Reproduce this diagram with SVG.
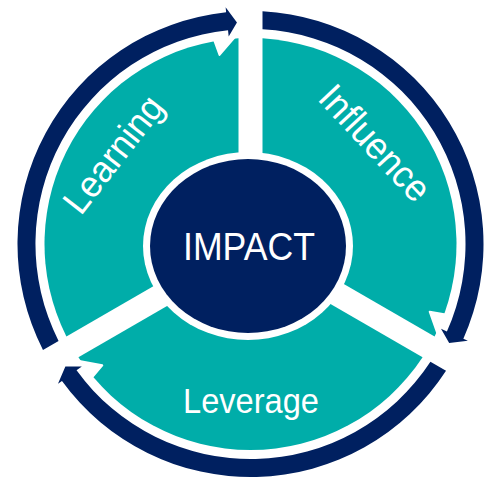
<svg xmlns="http://www.w3.org/2000/svg" width="492" height="479" viewBox="0 0 492 479">
  <style>
    .seg { fill: #00ADA9; }
    .hub { fill: #002060; }
    .ring-arrow { fill: #002060; }
    .cut { fill: #FFFFFF; stroke: #FFFFFF; stroke-width: 2; stroke-linejoin: round; }
    .label { fill: #FFFFFF; font-family: "Liberation Sans", Arial, sans-serif; }
  </style>
  <defs>
    <!-- one ring segment, centred on the +x axis, spanning 120 degrees minus the white gaps -->
    <path id="segment" d="M 13.86 0 L 113.22 -172.09 A 206 206 0 0 1 113.22 172.09 Z"/>
    <!-- one circular arrow: tail at the top gap, head just before the next gap (30 deg) -->
    <path id="arc-arrow" d="M 12 -232.7 A 233 233 0 0 1 212.86 94.77 L 217.4 96.8 L 198.67 99.06 L 190.5 84.8 L 196.41 87.45 A 215 215 0 0 0 12 -214.7 Z"/>
    <!-- white bite taken out of the segment below each arrowhead -->
    <path id="head-cut" d="M 198 71 L 179.2 67.7 L 188.4 93.7 L 201 101 Z"/>
  </defs>
  <rect x="0" y="0" width="492" height="479" fill="#FFFFFF"/>

  <g id="node-influence">
    <use href="#segment" class="seg" transform="translate(250.5 244) rotate(-30)"/>
    <text class="label" font-size="38" text-anchor="middle" textLength="144" lengthAdjust="spacingAndGlyphs" transform="translate(375 143) rotate(47)" x="0" y="13">Influence</text>
  </g>

  <g id="node-leverage">
    <use href="#segment" class="seg" transform="translate(250.5 244) rotate(90)"/>
    <text class="label" font-size="35" text-anchor="middle" textLength="136" lengthAdjust="spacingAndGlyphs" x="251" y="412.5">Leverage</text>
  </g>

  <g id="node-learning">
    <use href="#segment" class="seg" transform="translate(250.5 244) rotate(210)"/>
    <text class="label" font-size="37" text-anchor="middle" textLength="138" lengthAdjust="spacingAndGlyphs" transform="translate(113 154) rotate(-52)" x="0" y="13">Learning</text>
  </g>

  <g id="node-impact">
    <ellipse cx="248" cy="246" rx="105" ry="94" fill="#FFFFFF"/>
    <ellipse class="hub" cx="248" cy="246" rx="98" ry="87"/>
    <text class="label" font-size="39" text-anchor="middle" textLength="132" lengthAdjust="spacingAndGlyphs" x="249" y="260">IMPACT</text>
  </g>

  <g id="connectors">
    <g transform="translate(250.5 244)">
      <use href="#head-cut" class="cut"/>
      <use href="#head-cut" class="cut" transform="rotate(120)"/>
      <use href="#head-cut" class="cut" transform="rotate(240)"/>
      <use href="#arc-arrow" class="ring-arrow"/>
      <use href="#arc-arrow" class="ring-arrow" transform="rotate(120)"/>
      <use href="#arc-arrow" class="ring-arrow" transform="rotate(240)"/>
    </g>
  </g>
</svg>
